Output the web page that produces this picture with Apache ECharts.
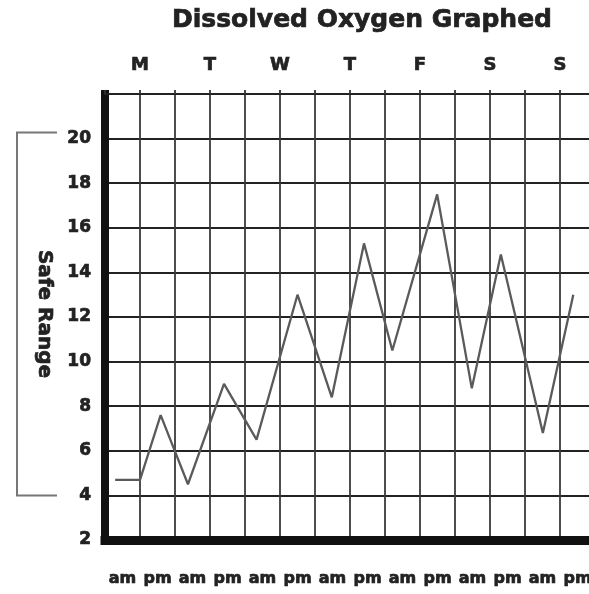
<!DOCTYPE html>
<html>
<head>
<meta charset="utf-8">
<script src="https://cdn.jsdelivr.net/npm/echarts@6/dist/echarts.min.js"></script>
<style>
html,body{margin:0;padding:0;background:#fff;}
#chart{width:589px;height:594px;}
</style>
</head>
<body>
<div id="chart"></div>
<script>
// ---- data ----
const chartTitle = 'Dissolved Oxygen Graphed';
const dayLabels = ['M', 'T', 'W', 'T', 'F', 'S', 'S'];
const halfDayLabels = ['am', 'pm', 'am', 'pm', 'am', 'pm', 'am', 'pm', 'am', 'pm', 'am', 'pm', 'am', 'pm'];
// reading times in half-day units from Monday morning, and dissolved oxygen readings
const readingTimes = [0.29, 1.0, 1.59, 2.37, 3.4, 4.33, 5.5, 6.48, 7.4, 8.21, 9.49, 10.48, 11.31, 12.51, 13.38];
const oxygen = [4.7, 4.7, 7.6, 4.5, 9.0, 6.5, 13.0, 8.4, 15.3, 10.5, 17.5, 8.8, 14.8, 6.8, 13.0];
const yMin = 2, yMax = 22, yStep = 2;
const safeRange = [4, 20];
const safeLabel = 'Safe Range';

const FONT = 'DejaVu Sans';
const INK = '#222';
const heavy = {textBorderColor: INK, textBorderWidth: 0.7};
const chart = echarts.init(document.getElementById('chart'), null, {renderer: 'canvas'});

const linePoints = readingTimes.map((t, i) => [t, oxygen[i]]);

chart.setOption({
  animation: false,
  backgroundColor: '#ffffff',
  title: {
    text: chartTitle,
    left: 357,
    top: 3,
    textAlign: 'center',
    textStyle: Object.assign({fontFamily: FONT, fontWeight: 'bold', fontSize: 25, color: INK}, heavy)
  },
  grid: {left: 105, right: -6, top: 94, bottom: 54, containLabel: false, outerBoundsMode: 'none'},
  xAxis: [
    {
      type: 'value',
      position: 'top',
      min: 0,
      max: halfDayLabels.length,
      interval: 1,
      axisLine: {show: true, lineStyle: {color: '#222', width: 2}},
      axisTick: {show: true, length: 4, lineStyle: {color: '#333', width: 1.8}},
      splitLine: {show: true, lineStyle: {color: '#3a3a3a', width: 1.8}},
      axisLabel: Object.assign({
        show: true,
        margin: 20,
        fontFamily: FONT,
        fontWeight: 'bold',
        fontSize: 18,
        color: INK,
        showMinLabel: true,
        showMaxLabel: true,
        hideOverlap: false,
        formatter: function (v) {
          if (v % 2 === 1) { return dayLabels[(v - 1) / 2] || ''; }
          return '';
        }
      }, heavy)
    },
    {
      type: 'category',
      position: 'bottom',
      data: halfDayLabels,
      boundaryGap: true,
      axisLine: {show: true, lineStyle: {color: '#111', width: 9, cap: 'square'}},
      axisTick: {show: false},
      splitLine: {show: false},
      axisLabel: Object.assign({
        interval: 0,
        margin: 31,
        fontFamily: FONT,
        fontWeight: 'bold',
        fontSize: 16,
        color: INK,
        hideOverlap: false
      }, heavy)
    }
  ],
  yAxis: {
    type: 'value',
    min: yMin,
    max: yMax,
    interval: yStep,
    axisLine: {show: true, lineStyle: {color: '#111', width: 8, cap: 'square'}},
    axisTick: {show: false},
    splitLine: {show: true, lineStyle: {color: '#222', width: 2}},
    axisLabel: Object.assign({
      margin: 14,
      fontFamily: FONT,
      fontWeight: 'bold',
      fontSize: 17,
      color: INK,
      formatter: function (v) { return v >= yMax ? '' : String(v); }
    }, heavy)
  },
  series: [{
    type: 'line',
    xAxisIndex: 0,
    yAxisIndex: 0,
    data: linePoints,
    showSymbol: false,
    symbol: 'none',
    lineStyle: {color: '#5a5a5a', width: 2.3},
    z: 5
  }]
});

// Safe range bracket positioned from the y scale
const yTop = chart.convertToPixel({yAxisIndex: 0}, safeRange[1]) - 6;
const yBot = chart.convertToPixel({yAxisIndex: 0}, safeRange[0]);
chart.setOption({
  graphic: [
    {
      type: 'polyline',
      shape: {points: [[57, yTop], [17, yTop], [17, yBot], [57, yBot]]},
      style: {stroke: '#777', lineWidth: 2, fill: null}
    },
    {
      type: 'text',
      x: 44,
      y: (yTop + yBot) / 2,
      rotation: -Math.PI / 2,
      style: {
        text: safeLabel,
        fontFamily: FONT,
        fontWeight: 'bold',
        fontSize: 20,
        fill: INK,
        stroke: INK,
        lineWidth: 0.7,
        align: 'center',
        verticalAlign: 'middle'
      }
    }
  ]
});
</script>
</body>
</html>
